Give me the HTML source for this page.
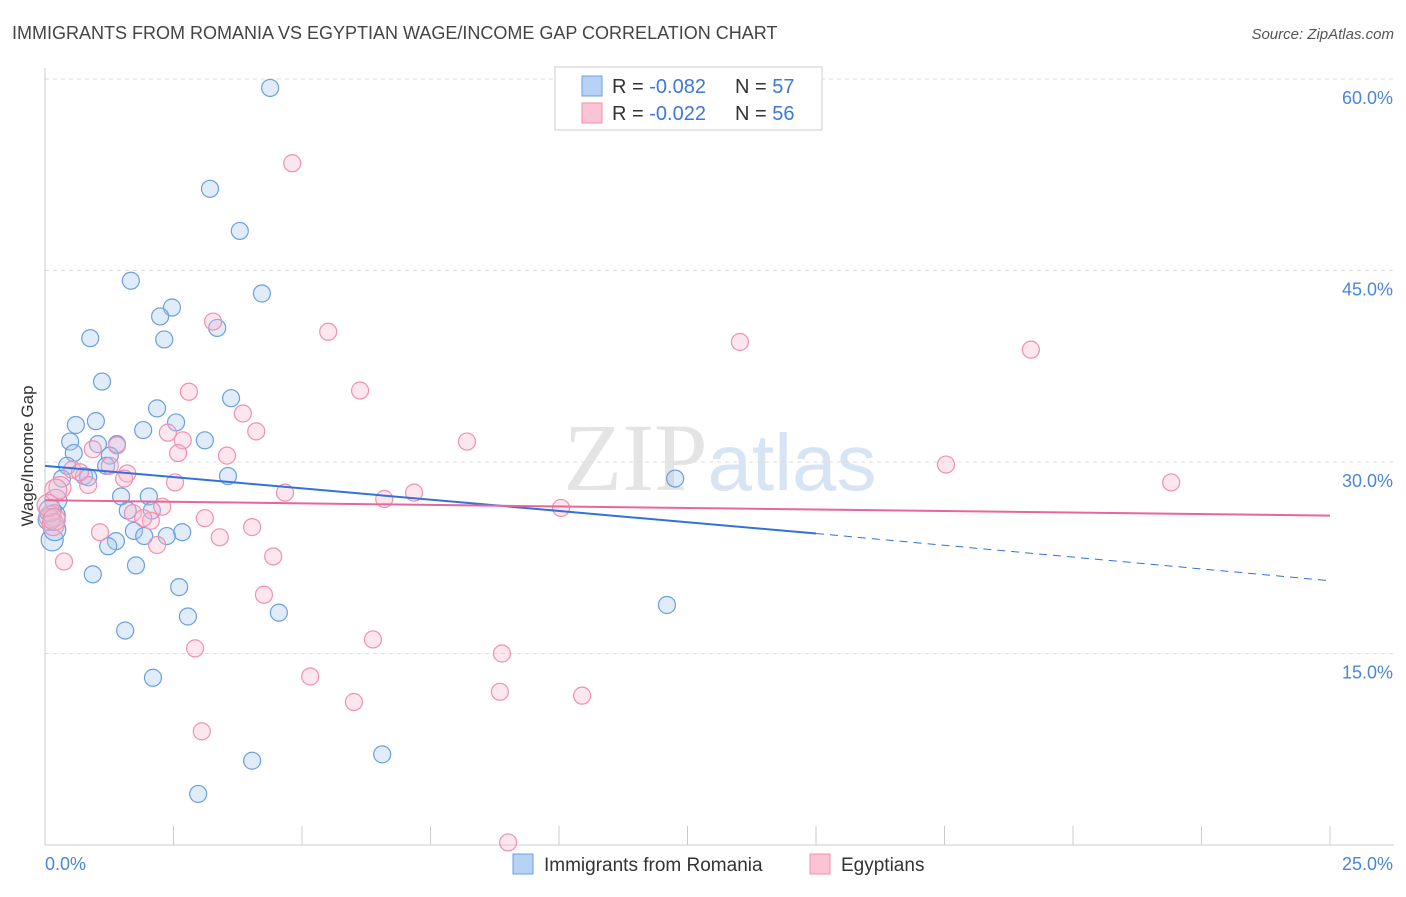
<!DOCTYPE html>
<html><head><meta charset="utf-8"><style>
body{margin:0;background:#fff;font-family:"Liberation Sans",sans-serif;}
</style></head><body>
<svg id="chart" width="1406" height="892" xmlns="http://www.w3.org/2000/svg" style="font-family:'Liberation Sans',sans-serif">
<text x="12" y="39" font-size="18" fill="#444">IMMIGRANTS FROM ROMANIA VS EGYPTIAN WAGE/INCOME GAP CORRELATION CHART</text>
<text x="1394" y="39" font-size="15" fill="#555" text-anchor="end" font-style="italic">Source: ZipAtlas.com</text>
<text x="720" y="490" font-size="96" fill="#e4e4e4" text-anchor="middle" font-family="Liberation Serif">ZIP<tspan fill="#d6e4f4" font-family="Liberation Sans" font-size="80">atlas</tspan></text>
<g id="grid"></g><g id="axes"></g><g id="pts"></g><g id="trend"></g>
<text transform="translate(33,456) rotate(-90)" font-size="17" fill="#333" text-anchor="middle">Wage/Income Gap</text>
<g>
<rect x="555" y="67" width="267" height="63" fill="#fff" stroke="#ccc"/>
<rect x="582" y="76" width="20" height="20" fill="#b7d2f4" stroke="#6a9fe0"/>
<rect x="582" y="103" width="20" height="20" fill="#fac4d4" stroke="#f090b0"/>
<text x="612" y="93" font-size="20" fill="#333">R = <tspan fill="#3b78d8">-0.082</tspan></text>
<text x="735" y="93" font-size="20" fill="#333">N = <tspan fill="#3b78d8">57</tspan></text>
<text x="612" y="120" font-size="20" fill="#333">R = <tspan fill="#3b78d8">-0.022</tspan></text>
<text x="735" y="120" font-size="20" fill="#333">N = <tspan fill="#3b78d8">56</tspan></text>
</g>
<g>
<rect x="513" y="854" width="20" height="20" fill="#b7d2f4" stroke="#6a9fe0"/>
<text x="544" y="871" font-size="19" fill="#333">Immigrants from Romania</text>
<rect x="810" y="854" width="20" height="20" fill="#fac4d4" stroke="#f090b0"/>
<text x="841" y="871" font-size="19" fill="#333">Egyptians</text>
</g>
</svg>
<script>
const blueX=[4.38,3.21,3.79,1.67,4.22,2.47,2.24,3.35,2.32,0.88,1.11,3.62,2.18,0.60,0.99,2.55,1.91,0.49,3.11,1.03,1.40,0.56,1.26,0.43,1.19,0.76,0.84,0.33,3.56,12.26,1.48,2.02,0.21,1.61,2.08,0.18,0.08,1.73,2.67,1.93,2.37,1.38,1.23,0.14,1.77,0.93,2.61,2.78,4.55,12.10,1.56,2.10,4.03,6.56,2.98,0.19,0.10];
const blueY=[59.3,51.4,48.1,44.2,43.2,42.1,41.4,40.5,39.6,39.7,36.3,35.0,34.2,32.9,33.2,33.1,32.5,31.6,31.7,31.4,31.4,30.7,30.5,29.7,29.7,28.9,28.8,28.7,28.9,28.7,27.3,27.3,27.0,26.2,26.2,25.8,25.5,24.6,24.5,24.2,24.2,23.8,23.4,23.9,21.9,21.2,20.2,17.9,18.2,18.8,16.8,13.1,6.6,7.1,4.0,24.7,26.2];
const pinkX=[4.81,3.27,5.51,13.52,19.18,2.80,6.13,3.85,4.11,8.21,2.39,2.68,1.40,0.93,3.54,2.59,1.26,1.60,0.53,1.54,0.84,2.53,21.91,17.53,7.18,4.67,6.60,0.29,10.04,2.28,1.71,2.06,1.91,3.11,0.10,0.16,1.07,4.03,3.40,2.18,0.37,4.44,4.26,6.38,2.92,8.89,5.16,8.85,10.45,6.01,3.05,9.01,0.21,0.06,0.18,0.68];
const pinkY=[53.4,41.0,40.2,39.4,38.8,35.5,35.6,33.8,32.4,31.6,32.3,31.7,31.3,31.0,30.5,30.7,29.7,29.1,29.4,28.7,28.2,28.4,28.4,29.8,27.6,27.6,27.1,28.0,26.4,26.5,26.0,25.4,25.6,25.6,25.7,25.1,24.5,24.9,24.1,23.5,22.2,22.6,19.6,16.1,15.4,15.0,13.2,12.0,11.7,11.2,8.9,0.2,27.8,26.6,25.5,29.2];
const yTicks=[15,30,45,60];
const yTickLabels=["15.0%","30.0%","45.0%","60.0%"];
const blueTrend=[[0,29.7],[15,24.4],[25,20.7]];
const pinkTrend=[[0,27.0],[25,25.8]];
const X=v=>45+v/25*1285, Y=v=>845-v*191.5/15;
const NS="http://www.w3.org/2000/svg";
function mk(p,t,a){const e=document.createElementNS(NS,t);for(const k in a)e.setAttribute(k,a[k]);document.getElementById(p).appendChild(e);return e;}
yTicks.forEach((t,i)=>{
 const g=mk('grid','line',{x1:45,x2:1394,y1:Y(t),y2:Y(t),stroke:'#ddd','stroke-dasharray':'4,4'});
 
 
 const l=mk('axes','text',{x:1393,y:Y(t)+25,'font-size':18,fill:'#4a86d8','text-anchor':'end'});
 l.textContent=yTickLabels[i];
 
 
});
let a=mk('axes','line',{x1:45,x2:45,y1:68,y2:845,stroke:'#ccc'});


a=mk('axes','line',{x1:45,x2:1394,y1:845,y2:845,stroke:'#ccc'});


for(let i=1;i<=10;i++){const t=mk('axes','line',{x1:X(i*2.5),x2:X(i*2.5),y1:826,y2:845,stroke:'#ccc'});
 
 }
[["0.0%",45,'start'],["25.0%",1393,'end']].forEach(d=>{const t=mk('axes','text',{x:d[1],y:870,'font-size':18,fill:'#4a86d8','text-anchor':d[2]});t.textContent=d[0];
 
 });
function pts(xs,ys,fill,stroke,name){xs.forEach((x,i)=>{const c=mk('pts','circle',{cx:X(x),cy:Y(ys[i]),r:x<0.3?11:8.5,fill:fill,'fill-opacity':0.35,stroke:stroke,'stroke-width':1.2});
 
 });}
pts(blueX,blueY,'#a8c8f0','#6a9fe0','romania-point');
pts(pinkX,pinkY,'#f8b8cc','#f090b0','egyptian-point');
let l=mk('trend','line',{x1:X(blueTrend[0][0]),y1:Y(blueTrend[0][1]),x2:X(blueTrend[1][0]),y2:Y(blueTrend[1][1]),stroke:'#3272d8','stroke-width':2});


l=mk('trend','line',{x1:X(blueTrend[1][0]),y1:Y(blueTrend[1][1]),x2:X(blueTrend[2][0]),y2:Y(blueTrend[2][1]),stroke:'#3272d8','stroke-width':1,'stroke-dasharray':'8,6'});


l=mk('trend','line',{x1:X(pinkTrend[0][0]),y1:Y(pinkTrend[0][1]),x2:X(pinkTrend[1][0]),y2:Y(pinkTrend[1][1]),stroke:'#e8679a','stroke-width':2});


</script>
</body></html>
